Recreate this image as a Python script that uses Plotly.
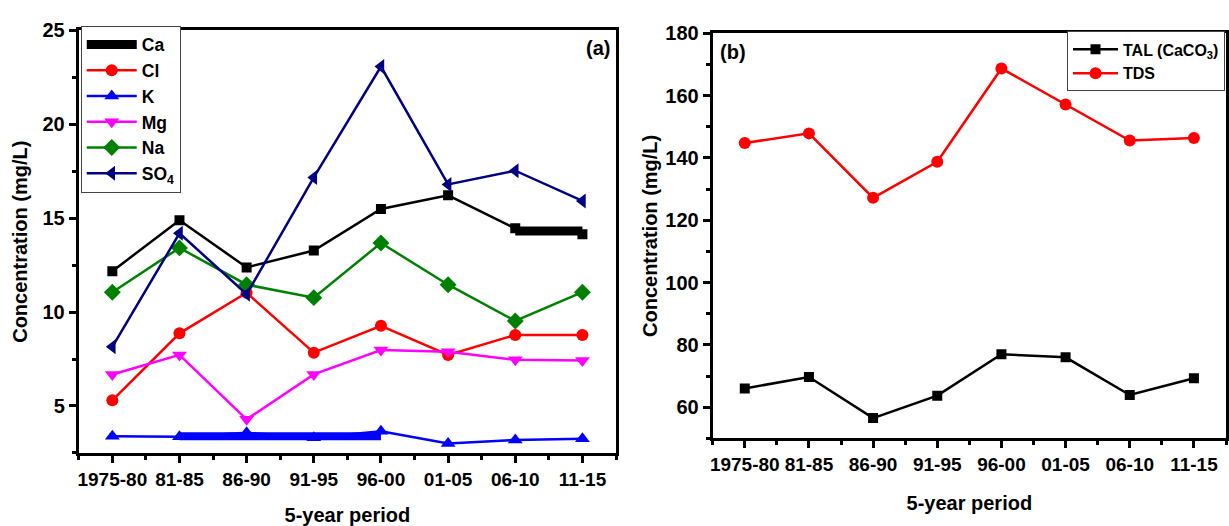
import plotly.graph_objects as go

W, H = 1229, 526

periods = ["1975-80", "81-85", "86-90", "91-95", "96-00", "01-05", "06-10", "11-15"]
xpos = list(range(len(periods)))

ca = [12.18, 14.89, 12.38, 13.28, 15.49, 16.22, 14.46, 14.14]
cl = [5.30, 8.87, 11.03, 7.84, 9.27, 7.72, 8.78, 8.78]
k = [3.39, 3.36, 3.57, 3.31, 3.65, 3.00, 3.19, 3.26]
mg = [6.68, 7.72, 4.29, 6.68, 7.98, 7.89, 7.46, 7.42]
na = [11.06, 13.42, 11.46, 10.77, 13.68, 11.46, 9.53, 11.06]
so4 = [8.15, 14.20, 10.95, 17.17, 23.08, 16.80, 17.53, 15.92]

# overlapping-marker artefacts seen in the original figure
ca_band_x = [6, 7]
ca_band_y = [14.32, 14.32]
k_band_x = [1, 4]
k_band_y = [3.39, 3.39]

tal = [66.0, 69.7, 56.5, 63.7, 77.0, 76.0, 63.9, 69.3]
tds = [144.8, 147.9, 127.2, 138.8, 168.75, 157.2, 145.6, 146.4]

FONT = "Liberation Sans"

fig = go.Figure()

# Left panel
fig.add_trace(go.Scatter(x=ca_band_x, y=ca_band_y, mode="lines", name="Ca",
                         line=dict(color="black", width=9), xaxis="x", yaxis="y",
                         legend="legend"))
fig.add_trace(go.Scatter(x=xpos, y=ca, mode="lines+markers", name="Ca", showlegend=False,
                         line=dict(color="black", width=2.5),
                         marker=dict(symbol="square", size=10, color="black"),
                         xaxis="x", yaxis="y"))
fig.add_trace(go.Scatter(x=xpos, y=cl, mode="lines+markers", name="Cl",
                         line=dict(color="#ff0000", width=2.5),
                         marker=dict(symbol="circle", size=12, color="#ff0000"),
                         xaxis="x", yaxis="y", legend="legend"))
fig.add_trace(go.Scatter(x=k_band_x, y=k_band_y, mode="lines", showlegend=False,
                         line=dict(color="#0000ff", width=8), xaxis="x", yaxis="y"))
fig.add_trace(go.Scatter(x=xpos, y=k, mode="lines+markers", name="K",
                         line=dict(color="#0000ff", width=2.5),
                         marker=dict(symbol="triangle-up", size=13, color="#0000ff"),
                         xaxis="x", yaxis="y", legend="legend"))
fig.add_trace(go.Scatter(x=xpos, y=mg, mode="lines+markers", name="Mg",
                         line=dict(color="#ff00ff", width=2.5),
                         marker=dict(symbol="triangle-down", size=13, color="#ff00ff"),
                         xaxis="x", yaxis="y", legend="legend"))
fig.add_trace(go.Scatter(x=xpos, y=na, mode="lines+markers", name="Na",
                         line=dict(color="#008000", width=2.5),
                         marker=dict(symbol="diamond", size=13, color="#008000"),
                         xaxis="x", yaxis="y", legend="legend"))
fig.add_trace(go.Scatter(x=xpos, y=so4, mode="lines+markers", name="SO<sub>4</sub>",
                         line=dict(color="#000080", width=2.5),
                         marker=dict(symbol="triangle-left", size=13, color="#000080"),
                         xaxis="x", yaxis="y", legend="legend"))

# Right panel
fig.add_trace(go.Scatter(x=xpos, y=tal, mode="lines+markers", name="TAL (CaCO<sub>3</sub>)",
                         line=dict(color="black", width=2.5),
                         marker=dict(symbol="square", size=10, color="black"),
                         xaxis="x2", yaxis="y2", legend="legend2"))
fig.add_trace(go.Scatter(x=xpos, y=tds, mode="lines+markers", name="TDS",
                         line=dict(color="#ff0000", width=2.5),
                         marker=dict(symbol="circle", size=12, color="#ff0000"),
                         xaxis="x2", yaxis="y2", legend="legend2"))

tickfont = dict(family=FONT, size=19, color="black", weight="bold")
ytickfont = dict(family=FONT, size=20, color="black", weight="bold")
titlefont = dict(family=FONT, size=20, color="black", weight="bold")

def xax(domain, anchor):
    return dict(domain=domain, anchor=anchor, range=[-0.5, 7.5],
                tickmode="array", tickvals=xpos, ticktext=periods,
                ticks="outside", ticklen=7, tickwidth=2.5, tickcolor="black",
                minor=dict(dtick=0.5, tick0=0, ticks="outside", ticklen=4,
                           tickwidth=2.5, tickcolor="black"),
                showline=True, linecolor="black", linewidth=3, mirror=True,
                showgrid=False, zeroline=False, tickfont=tickfont,
                title=dict(text="5-year period", font=titlefont, standoff=22))

def yax(domain, anchor, rng, dtick, mdtick, standoff):
    return dict(domain=domain, anchor=anchor, range=rng, dtick=dtick, tick0=0,
                ticks="outside", ticklen=7, tickwidth=2.5, tickcolor="black",
                minor=dict(dtick=mdtick, tick0=0, ticks="outside", ticklen=4,
                           tickwidth=2.5, tickcolor="black"),
                showline=True, linecolor="black", linewidth=3, mirror=True,
                showgrid=False, zeroline=False, tickfont=ytickfont,
                title=dict(text="Concentration (mg/L)", font=titlefont, standoff=standoff))

fig.update_layout(
    width=W, height=H,
    margin=dict(l=0, r=0, t=0, b=0),
    paper_bgcolor="white", plot_bgcolor="white",
    font=dict(family=FONT, color="black"),
    xaxis=xax([76 / W, 615 / W], "y"),
    yaxis=yax([(H - 454) / H, (H - 20) / H], "x", [2.5, 25], 5, 2.5, 10),
    xaxis2=xax([712 / W, 1227 / W], "y2"),
    yaxis2=yax([(H - 439) / H, (H - 23) / H], "x2", [50, 180], 20, 10, 3),
    legend=dict(x=78 / W, y=(H - 15) / H, xanchor="left", yanchor="top",
                bgcolor="white", bordercolor="#444444", borderwidth=1,
                font=dict(family=FONT, size=17.5, color="black", weight="bold"),
                itemwidth=50, tracegroupgap=0),
    legend2=dict(x=1226 / W, y=(H - 21) / H, xanchor="right", yanchor="top",
                 bgcolor="white", bordercolor="#444444", borderwidth=1,
                 font=dict(family=FONT, size=16, color="black", weight="bold"),
                 itemwidth=45),
    annotations=[
        dict(text="(a)", x=611 / W, y=(H - 38) / H, xref="paper", yref="paper",
             xanchor="right", yanchor="middle", showarrow=False,
             font=dict(family=FONT, size=20, color="black", weight="bold")),
        dict(text="(b)", x=717 / W, y=(H - 42) / H, xref="paper", yref="paper",
             xanchor="left", yanchor="middle", showarrow=False,
             font=dict(family=FONT, size=20, color="black", weight="bold")),
    ],
)

fig.write_html("out.html")
